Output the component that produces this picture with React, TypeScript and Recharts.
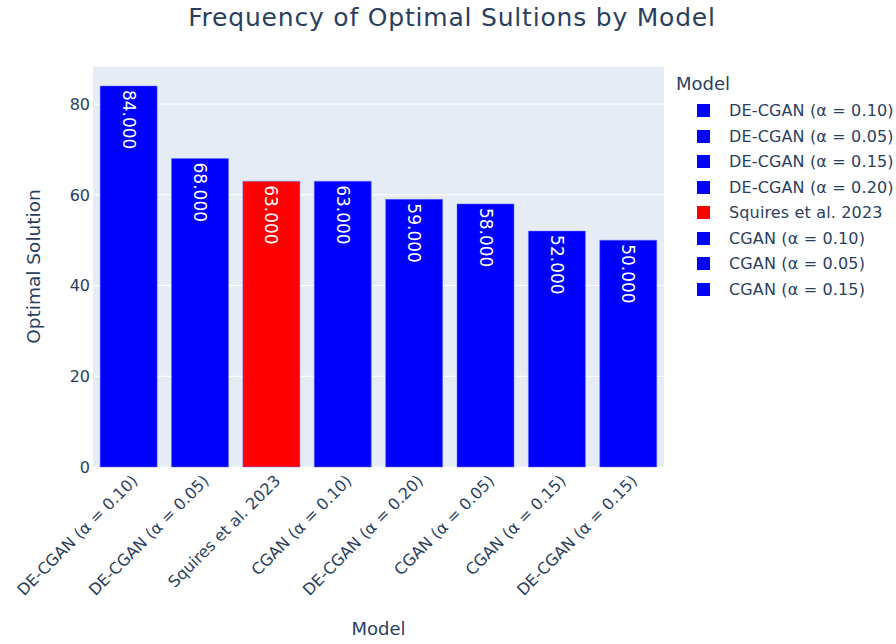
import { BarChart, Bar, XAxis, YAxis, CartesianGrid, Cell, LabelList } from "recharts";

const categories = [
  "DE-CGAN (α = 0.10)",
  "DE-CGAN (α = 0.05)",
  "Squires et al. 2023",
  "CGAN (α = 0.10)",
  "DE-CGAN (α = 0.20)",
  "CGAN (α = 0.05)",
  "CGAN (α = 0.15)",
  "DE-CGAN (α = 0.15)",
];
const values = [84, 68, 63, 63, 59, 58, 52, 50];
const barColors = ["#0000ff", "#0000ff", "#ff0000", "#0000ff", "#0000ff", "#0000ff", "#0000ff", "#0000ff"];

const legendNames = [
  "DE-CGAN (α = 0.10)",
  "DE-CGAN (α = 0.05)",
  "DE-CGAN (α = 0.15)",
  "DE-CGAN (α = 0.20)",
  "Squires et al. 2023",
  "CGAN (α = 0.10)",
  "CGAN (α = 0.05)",
  "CGAN (α = 0.15)",
];
const legendColors = ["#0000ff", "#0000ff", "#0000ff", "#0000ff", "#ff0000", "#0000ff", "#0000ff", "#0000ff"];

const yTicks = [0, 20, 40, 60, 80];

const FONT = '"DejaVu Sans", Verdana, sans-serif';
const INK = "#2a3f5f";

const data = categories.map((c, i) => ({ model: c, value: values[i], color: barColors[i] }));

function XTick({ x, y, payload }: any) {
  const ax = x + 6;
  const ay = y + 3;
  return (
    <text
      x={ax}
      y={ay}
      transform={`rotate(-45, ${ax}, ${ay})`}
      textAnchor="end"
      dominantBaseline="central"
      fontSize={16}
      fill={INK}
      fontFamily={FONT}
    >
      {payload.value}
    </text>
  );
}

function BarText({ x, y, width, value }: any) {
  const cx = x + width / 2;
  const ty = y + 4;
  return (
    <text
      x={cx}
      y={ty}
      transform={`rotate(90, ${cx}, ${ty})`}
      textAnchor="start"
      dominantBaseline="central"
      fontSize={17}
      fill="#ffffff"
      fontFamily={FONT}
    >
      {Number(value).toFixed(3)}
    </text>
  );
}

function LegendBox() {
  return (
    <div style={{ position: "absolute", left: 676, top: 73, fontFamily: FONT, color: INK }}>
      <div style={{ fontSize: 18, height: 25 }}>Model</div>
      {legendNames.map((n, i) => (
        <div key={n} style={{ display: "flex", alignItems: "center", height: 25.5, fontSize: 16, whiteSpace: "nowrap", letterSpacing: 0.15 }}>
          <span
            style={{
              display: "inline-block",
              width: 13,
              height: 13,
              background: legendColors[i],
              marginLeft: 21,
              marginRight: 19,
            }}
          />
          <span>{n}</span>
        </div>
      ))}
    </div>
  );
}

export default function App() {
  return (
    <div style={{ position: "absolute", left: 0, top: 0, width: 896, height: 644, background: "#fff", fontFamily: FONT }}>
      <div
        style={{
          position: "absolute",
          top: 3,
          left: 0,
          width: 904,
          textAlign: "center",
          fontSize: 25,
          letterSpacing: 0.8,
          color: INK,
        }}
      >
        Frequency of Optimal Sultions by Model
      </div>
      <BarChart
        width={896}
        height={644}
        data={data}
        margin={{ top: 66, right: 232, bottom: 57, left: 53 }}
        barCategoryGap="10%"
      >
        <CartesianGrid fill="#e5ecf6" stroke="#ffffff" strokeWidth={1} vertical={false} />
        <XAxis
          dataKey="model"
          interval={0}
          tick={<XTick />}
          tickLine={false}
          axisLine={false}
          height={120}
          label={{ value: "Model", position: "insideBottom", offset: -48, fontSize: 18, fill: INK, fontFamily: FONT }}
        />
        <YAxis
          domain={[0, 88.4]}
          ticks={yTicks}
          width={40}
          tickLine={false}
          axisLine={false}
          tick={{ fontSize: 16, fill: INK, fontFamily: FONT, dx: 5 }}
          label={{
            value: "Optimal Solution",
            angle: -90,
            position: "insideLeft",
            offset: -20,
            fontSize: 18.5,
            fill: INK,
            fontFamily: FONT,
            style: { textAnchor: "middle" },
          }}
        />
        <Bar dataKey="value" isAnimationActive={false} stroke="#6f6fff" strokeWidth={0.5}>
          {data.map((d) => (
            <Cell key={d.model} fill={d.color} />
          ))}
          <LabelList dataKey="value" content={<BarText />} />
        </Bar>
      </BarChart>
      <LegendBox />
    </div>
  );
}
